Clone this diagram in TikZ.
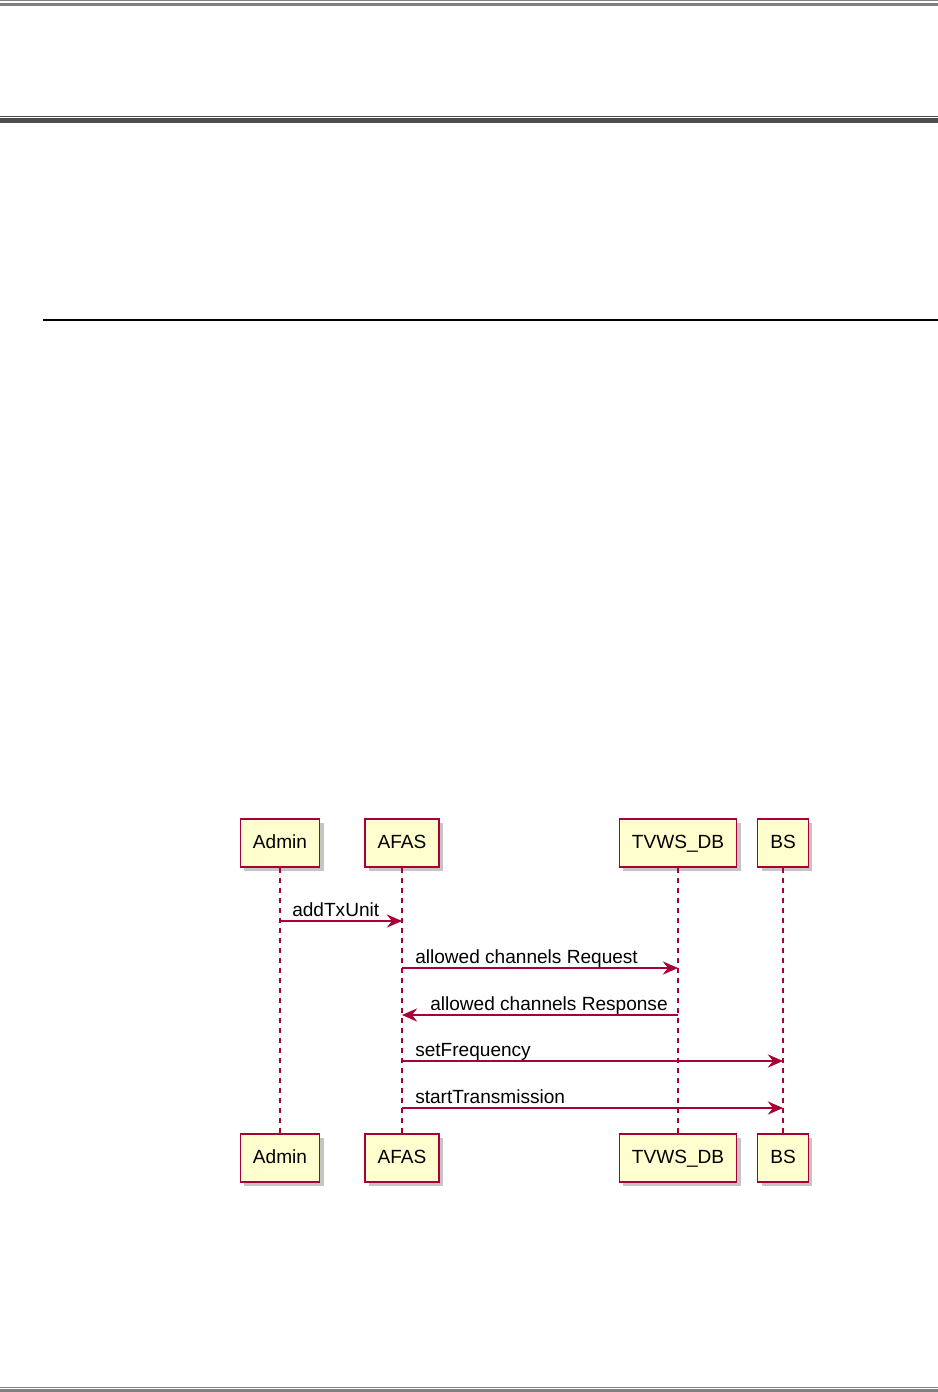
\documentclass[tikz,border=0pt]{standalone}
\usepackage{fontspec}
\setmainfont{Liberation Sans}
\usepackage{xcolor}
\usetikzlibrary{arrows.meta,calc,positioning,shadows}
\definecolor{umlred}{RGB}{168,0,54}
\definecolor{umlfill}{RGB}{254,254,206}
\definecolor{rulegray}{RGB}{128,128,128}
\definecolor{ruledark}{RGB}{77,77,77}
\tikzset{
  actorbox/.style={draw=umlred,fill=umlfill,line width=1.1pt,minimum height=36pt,
    inner xsep=9.5pt,text height=10.5pt,text depth=3pt,font=\fontsize{14.3}{17}\selectfont,
    drop shadow={shadow xshift=3pt,shadow yshift=-3pt,fill=black!45,opacity=0.5}},
  lifeline/.style={draw=umlred,line width=0.8pt,dash pattern=on 3.75pt off 3.75pt},
  msgline/.style={draw=umlred,line width=0.9pt},
  msglabel/.style={font=\fontsize{14.3}{17}\selectfont,inner sep=0pt}
}
% y, left lifeline, right lifeline, label, arrow, label offset
\newcommand{\umlmsg}[6]{%
  \draw[msgline,#5] (#2 |- 0,#1) -- (#3 |- 0,#1);%
  \node[msglabel,anchor=base west] at ($(#2 |- 0,#1)+(#6,-5)$) {#4};%
}

\begin{document}
\begin{tikzpicture}[x=0.75pt,y=-0.75pt,
  >={Stealth[length=11.5pt,width=10pt,inset=4pt]}]
  \useasboundingbox (0,0) rectangle (938,1392);
  % page rules
  \fill[rulegray] (0,0.2) rectangle (938,1.2);
  \fill[rulegray] (0,3) rectangle (938,5.8);
  \fill[ruledark] (0,115.6) rectangle (938,116.6);
  \fill[ruledark] (0,117.5) rectangle (938,123.3);
  \fill[black] (43,318.8) rectangle (938,321.1);
  \fill[rulegray] (0,1386.6) rectangle (938,1387.7);
  \fill[rulegray] (0,1389) rectangle (938,1392);
  % participants
  \node[actorbox] (admin) at (280,843) {Admin};
  \node[actorbox] (afas) at (402,843) {AFAS};
  \node[actorbox] (tvws) at (678,843) {TVWS\_DB};
  \node[actorbox] (bs) at (783,843) {BS};
  \node[actorbox] (adminB) at (280,1158) {Admin};
  \node[actorbox] (afasB) at (402,1158) {AFAS};
  \node[actorbox] (tvwsB) at (678,1158) {TVWS\_DB};
  \node[actorbox] (bsB) at (783,1158) {BS};
  \foreach \p in {admin,afas,tvws,bs} \draw[lifeline] (\p) -- (\p B);
  % messages
  \umlmsg{921}{admin}{afas}{addTxUnit}{->}{12}
  \umlmsg{968}{afas}{tvws}{allowed channels Request}{->}{13}
  \umlmsg{1015}{afas}{tvws}{allowed channels Response}{<-}{28}
  \umlmsg{1061}{afas}{bs}{setFrequency}{->}{13}
  \umlmsg{1108}{afas}{bs}{startTransmission}{->}{13}
\end{tikzpicture}
\end{document}
